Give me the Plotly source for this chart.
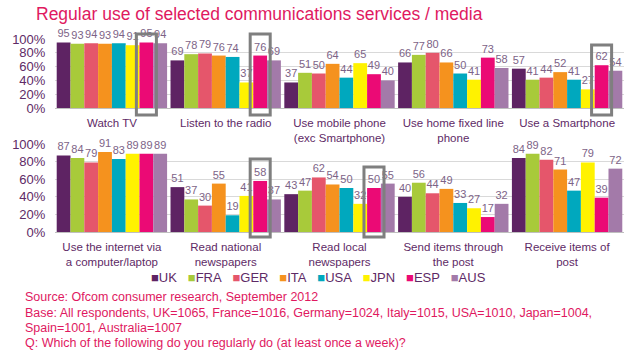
import plotly.graph_objects as go

countries = ["UK", "FRA", "GER", "ITA", "USA", "JPN", "ESP", "AUS"]
colors = ["#5E2363", "#A8CA3A", "#E5566B", "#F5921E", "#00A8BE", "#FFF200", "#EB0A75", "#A37AA9"]

top_cats = ["Watch TV", "Listen to the radio", "Use mobile phone<br>(exc Smartphone)",
            "Use home fixed line<br>phone", "Use a Smartphone"]
bottom_cats = ["Use the internet via<br>a computer/laptop", "Read national<br>newspapers",
               "Read local<br>newspapers", "Send items through<br>the post", "Receive items of<br>post"]

# values per country, in category order
top_vals = {
    "UK":  [95, 69, 37, 66, 57],
    "FRA": [93, 78, 51, 77, 41],
    "GER": [94, 79, 50, 80, 44],
    "ITA": [93, 76, 64, 66, 52],
    "USA": [94, 74, 44, 50, 41],
    "JPN": [91, 37, 65, 41, 27],
    "ESP": [95, 76, 49, 73, 62],
    "AUS": [94, 69, 40, 58, 54],
}
bottom_vals = {
    "UK":  [87, 51, 43, 40, 84],
    "FRA": [84, 37, 47, 56, 89],
    "GER": [79, 30, 62, 44, 82],
    "ITA": [91, 55, 54, 49, 71],
    "USA": [83, 19, 50, 33, 47],
    "JPN": [89, 41, 32, 27, 79],
    "ESP": [89, 58, 50, 17, 39],
    "AUS": [89, 37, 55, 32, 72],
}

y_ticks = [0, 20, 40, 60, 80, 100]
y_ticktext = ["0%", "20%", "40%", "60%", "80%", "100%"]

title_text = "Regular use of selected communications services / media"
source_lines = [
    "Source: Ofcom consumer research, September 2012",
    "Base: All respondents, UK=1065, France=1016, Germany=1024, Italy=1015, USA=1010, Japan=1004,",
    "Spain=1001, Australia=1007",
    "Q: Which of the following do you regularly do (at least once a week)?",
]

FONT = "Liberation Sans, Arial, sans-serif"
PURPLE = "#5E2A66"
LABEL = "#7D6387"
PINK = "#E0195F"

W, H = 640, 353
ML, MR, MT, MB = 52, 16, 39, 121
plot_h = H - MT - MB
top_dom = [(232 - 108) / plot_h, 1.0]
bot_dom = [0.0, (232 - 144) / plot_h]

fig = go.Figure()
for name, col in zip(countries, colors):
    fig.add_trace(go.Bar(x=top_cats, y=top_vals[name], name=name, marker_color=col,
                         marker_line_width=0, text=top_vals[name], textposition="outside",
                         textfont=dict(size=11, color=LABEL, family=FONT),
                         cliponaxis=False, constraintext="none", showlegend=False,
                         xaxis="x", yaxis="y"))
    fig.add_trace(go.Bar(x=bottom_cats, y=bottom_vals[name], name=name, marker_color=col,
                         marker_line_width=0, text=bottom_vals[name], textposition="outside",
                         textfont=dict(size=11, color=LABEL, family=FONT),
                         cliponaxis=False, constraintext="none", showlegend=False,
                         xaxis="x2", yaxis="y2"))

bargap = 0.03
n = len(countries)
esp_i = countries.index("ESP")
bw = (1 - bargap) / n
esp_off = -(1 - bargap) / 2 + (esp_i + 0.5) * bw
half = 0.088

def py2paper(py):
    return (232 - py) / plot_h

# highlight boxes: (axis, category index, top px, bottom px)
boxes = [("x", 0, 34, 115), ("x", 1, 34, 115), ("x", 4, 45, 115),
         ("x2", 1, 159, 237), ("x2", 2, 167, 237)]
for ax, ci, t, b in boxes:
    fig.add_shape(type="rect", xref=ax, yref="paper",
                  x0=ci + esp_off - half, x1=ci + esp_off + half,
                  y0=py2paper(b), y1=py2paper(t),
                  line=dict(color="#7F7F7F", width=3), fillcolor="rgba(0,0,0,0)")

axis_common = dict(showgrid=False, showline=True, linecolor="#BFBFBF", linewidth=1,
                   ticks="outside", ticklen=4, tickcolor="rgba(0,0,0,0)",
                   tickfont=dict(size=11.5, color=PURPLE, family=FONT), tickangle=0)
yaxis_common = dict(range=[0, 100], tickmode="array", tickvals=y_ticks, ticktext=y_ticktext,
                    showgrid=True, gridcolor="#D9D9D9", gridwidth=1, zeroline=False,
                    showline=False, ticks="outside", ticklen=6, tickcolor="rgba(0,0,0,0)",
                    tickfont=dict(size=13, color=PURPLE, family=FONT))

fig.update_layout(
    width=W, height=H,
    margin=dict(l=ML, r=MR, t=MT, b=MB),
    paper_bgcolor="white", plot_bgcolor="white",
    barmode="group", bargap=bargap, bargroupgap=0,
    font=dict(family=FONT, color=PURPLE),
    xaxis=dict(anchor="y", **axis_common),
    xaxis2=dict(anchor="y2", **axis_common),
    yaxis=dict(domain=top_dom, anchor="x", **yaxis_common),
    yaxis2=dict(domain=bot_dom, anchor="x2", **yaxis_common),
    title=dict(text=title_text, x=36 / W, xanchor="left", xref="container",
               y=1 - 14 / H, yanchor="middle", yref="container",
               font=dict(size=17.5, color=PINK, family=FONT)),
)

legend_html = "&nbsp;&nbsp;&nbsp;".join(
    f"<span style='color:{c}'>■</span>{nm}" for nm, c in zip(countries, colors))
fig.add_annotation(text=legend_html, xref="paper", yref="paper",
                   x=(317 - ML) / (W - ML - MR), y=py2paper(277),
                   xanchor="center", yanchor="middle", showarrow=False,
                   font=dict(size=13, color=PURPLE, family=FONT))

for line, py in zip(source_lines, [297, 313, 328, 343]):
    fig.add_annotation(text=line, xref="paper", yref="paper",
                       x=(20 - ML) / (W - ML - MR), y=py2paper(py),
                       xanchor="left", yanchor="middle", showarrow=False,
                       font=dict(size=12.5, color=PINK, family=FONT))

fig.write_html("out.html")
